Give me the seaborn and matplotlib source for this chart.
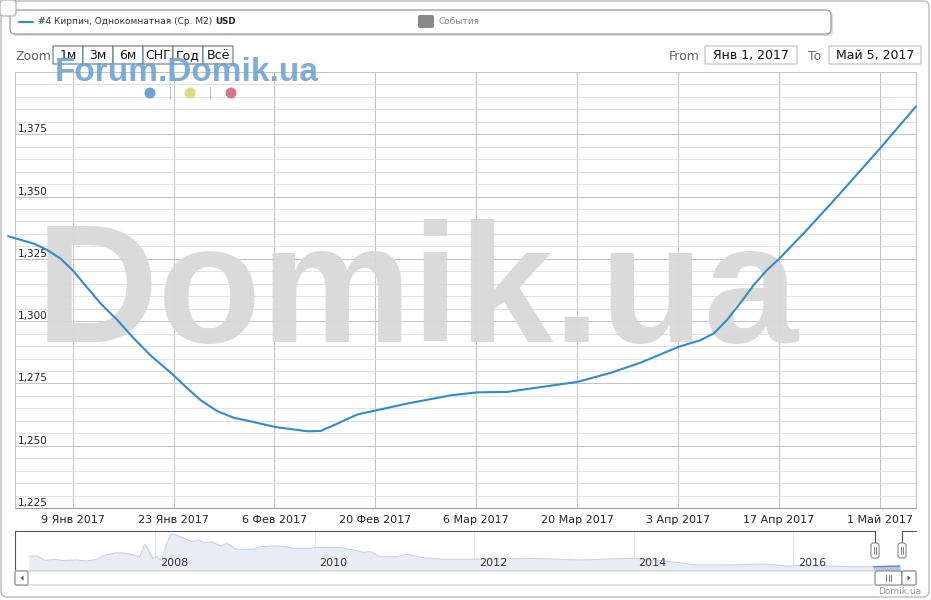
import numpy as np
import pandas as pd
import matplotlib
matplotlib.use("Agg")
import matplotlib.pyplot as plt
from matplotlib.patches import FancyBboxPatch, Circle, Polygon
from matplotlib.lines import Line2D
import seaborn as sns

# main series: #4 brick, one-room flat, avg USD per m2
dates = ["2016-12-31 01:00", "2017-01-03 15:00", "2017-01-05 12:00", "2017-01-07 08:00",
         "2017-01-09 00:00", "2017-01-10 13:00", "2017-01-12 21:00", "2017-01-15 05:00",
         "2017-01-17 12:00", "2017-01-19 19:00", "2017-01-23 00:00", "2017-01-24 22:00",
         "2017-01-26 18:00", "2017-01-29 01:00", "2017-01-31 09:00", "2017-02-02 16:00",
         "2017-02-06 03:00", "2017-02-10 13:00", "2017-02-12 09:00", "2017-02-14 05:00",
         "2017-02-17 11:00", "2017-02-20 03:00", "2017-02-24 09:00", "2017-03-02 10:00",
         "2017-03-06 00:00", "2017-03-10 07:00", "2017-03-15 20:00", "2017-03-20 00:00",
         "2017-03-24 14:00", "2017-03-28 18:00", "2017-03-31 12:00", "2017-04-03 02:00",
         "2017-04-06 01:00", "2017-04-07 22:00", "2017-04-09 18:00", "2017-04-11 14:00",
         "2017-04-13 11:00", "2017-04-15 07:00", "2017-04-17 01:00", "2017-04-20 20:00",
         "2017-04-25 11:00", "2017-05-01 00:00", "2017-05-06 00:00"]
prices = [1334.1, 1331.1, 1328.5, 1325.1,
          1320.4, 1315.1, 1307.1, 1300.4,
          1293.0, 1286.3, 1278.3, 1273.0,
          1268.3, 1263.9, 1261.2, 1259.8,
          1257.5, 1255.8, 1255.9, 1258.2,
          1262.5, 1264.2, 1266.9, 1270.2,
          1271.4, 1271.6, 1273.9, 1275.6,
          1279.2, 1283.3, 1286.6, 1289.7,
          1292.3, 1295.0, 1300.4, 1307.1,
          1314.4, 1320.4, 1325.1, 1336.5,
          1351.2, 1369.3, 1386.2]

tick_dates = ["2017-01-09", "2017-01-23", "2017-02-06", "2017-02-20", "2017-03-06",
              "2017-03-20", "2017-04-03", "2017-04-17", "2017-05-01"]
tick_labels = ["9 Янв 2017", "23 Янв 2017", "6 Фев 2017", "20 Фев 2017", "6 Мар 2017",
               "20 Мар 2017", "3 Апр 2017", "17 Апр 2017", "1 Май 2017"]
y_ticks = [1225, 1250, 1275, 1300, 1325, 1350, 1375]
y_labels = ["1,225", "1,250", "1,275", "1,300", "1,325", "1,350", "1,375"]

# navigator (whole history), years as decimals
nav_years = [2006.42, 2006.52, 2006.62, 2006.75, 2006.85, 2007.02, 2007.14, 2007.27,
             2007.35, 2007.52, 2007.65, 2007.77, 2007.81, 2007.87, 2007.92, 2007.97,
             2008.02, 2008.08, 2008.14, 2008.20, 2008.27, 2008.35, 2008.46, 2008.54,
             2008.63, 2008.71, 2008.82, 2008.90, 2009.02, 2009.23, 2009.32, 2009.48,
             2009.65, 2009.73, 2009.94, 2010.07, 2010.32, 2010.49, 2010.61, 2010.70,
             2010.82, 2011.03, 2011.16, 2011.36, 2011.61, 2011.91, 2012.33, 2012.70,
             2013.33, 2013.96, 2014.37, 2014.79, 2015.21, 2015.63, 2015.92, 2016.25,
             2016.67, 2017.01, 2017.34]
nav_values = [1549, 1549, 1449, 1473, 1440, 1456, 1433, 1473,
              1556, 1626, 1612, 1556, 1533, 1829, 1689, 1496,
              1533, 1449, 1806, 2062, 2039, 1976, 1883, 1922,
              1859, 1883, 1783, 1845, 1706, 1706, 1766, 1783,
              1766, 1729, 1729, 1752, 1743, 1689, 1636, 1650,
              1533, 1533, 1589, 1510, 1473, 1473, 1480, 1496,
              1456, 1496, 1440, 1340, 1340, 1363, 1316, 1340,
              1300, 1300, 1316]
nav_year_ticks = [2008, 2010, 2012, 2014, 2016]

zoom_buttons = ["1м", "3м", "6м", "СНГ", "Год", "Всё"]
series_name = "#4 Кирпич, Однокомнатная (Ср. М2)"
from_date = "Янв 1, 2017"
to_date = "Май 5, 2017"

sns.set_style("white")
plt.rcParams["font.family"] = ["DejaVu Sans"]

W, H = 931, 600
fig = plt.figure(figsize=(W / 100, H / 100), dpi=100)
T = fig.dpi_scale_trans


def box(x, y, w, h, r=0.0, fc="white", ec="#999999", lw=0.8, z=10):
    # pixel box, y from top
    p = FancyBboxPatch((x / 100, (H - y - h) / 100), w / 100, h / 100,
                       boxstyle="round,pad=0,rounding_size=%f" % (r / 100),
                       transform=T, fc=fc, ec=ec, lw=lw, zorder=z)
    fig.add_artist(p)
    return p


def txt(x, y, s, **kw):
    return fig.text(x / 100, (H - y) / 100, s, transform=T, **kw)


# page frame
box(1, 1, 928, 596, r=6, fc="none", ec="#bbbbbb", lw=1, z=1)

# legend bar
box(12, 12, 821, 24, r=5, fc="#dddddd", ec="none", z=2)
box(10, 10, 821, 24, r=5, fc="white", ec="#9a9a9a", lw=0.9, z=3)
fig.add_artist(Line2D([19 / 100, 33 / 100], [(H - 22) / 100] * 2, transform=T,
                      color="#2f8dcd", lw=1.6, zorder=4))
txt(38, 22, series_name, fontsize=6.5, color="#333333", va="center", zorder=4)
txt(215, 22, "USD", fontsize=6.3, color="#222222", fontweight="bold", va="center", zorder=4)
box(418, 15, 16, 13, r=2, fc="#888888", ec="none", z=4)
txt(439, 22, "События", fontsize=6.5, color="#888888", va="center", zorder=4)
box(0, 0, 16, 16, r=3, fc="white", ec="#aaaaaa", lw=0.8, z=5)

# range selector
txt(16, 56, "Zoom", fontsize=9, color="#666666", va="center", zorder=4)
for i, lab in enumerate(zoom_buttons):
    bx = 53 + i * 30
    box(bx, 46, 30, 18, fc="white", ec="#5b7496", lw=0.8, z=4)
    txt(bx + 15, 55.5, lab, fontsize=9, color="#111111", ha="center", va="center", zorder=5)
txt(669, 56, "From", fontsize=9, color="#666666", va="center", zorder=4)
box(705, 46, 92, 18, fc="white", ec="#bbbbbb", lw=0.8, z=4)
txt(751, 55.5, from_date, fontsize=9, color="#111111", ha="center", va="center", zorder=5)
txt(808, 56, "To", fontsize=9, color="#666666", va="center", zorder=4)
box(829, 46, 92, 18, fc="white", ec="#bbbbbb", lw=0.8, z=4)
txt(875, 55.5, to_date, fontsize=9, color="#111111", ha="center", va="center", zorder=5)

# small watermark + dots
txt(55, 81, "Forum.Domik.ua", fontsize=24, fontweight="bold", color="#6ea3d6",
    alpha=0.9, family="Liberation Sans", va="baseline", zorder=6)
for cx, col in [(150, "#6fa0d8"), (190, "#d6de84"), (231, "#d9758f")]:
    fig.add_artist(Circle((cx / 100, (H - 93) / 100), 5.5 / 100, transform=T,
                          fc=col, ec="none", zorder=6))
for sx in [170, 210]:
    fig.add_artist(Line2D([sx / 100] * 2, [(H - 99) / 100, (H - 87) / 100], transform=T,
                          color="#bbbbbb", lw=0.7, zorder=6))

# main chart
ax = fig.add_axes([15 / W, 1 - 508 / H, 901 / W, 436 / H])
ax.patch.set_alpha(0)
# big watermark sits over the grid but under the line
ax.text(36 / 100, (H - 342) / 100, "Domik.ua", transform=T, fontsize=122,
        fontweight="bold", color="#d8d8d8", alpha=0.95, family="Liberation Sans",
        va="baseline", zorder=1.5, clip_on=False)
df = pd.DataFrame({"date": pd.to_datetime(dates), "price": prices})
sns.lineplot(data=df, x="date", y="price", ax=ax, color="#2f8dcd", linewidth=1.5,
             zorder=5, clip_on=False)
ax.set_xlim(pd.Timestamp("2017-01-01"), pd.Timestamp("2017-05-06"))
ax.set_ylim(1225, 1400)
ax.set_xticks(pd.to_datetime(tick_dates))
ax.set_xticklabels(tick_labels)
ax.set_yticks(y_ticks)
ax.set_yticklabels(y_labels)
ax.set_yticks(np.arange(1225, 1401, 5), minor=True)
ax.set_xlabel("")
ax.set_ylabel("")
ax.grid(True, which="major", color="#c4c4c4", lw=0.75)
ax.grid(True, which="minor", axis="y", color="#e2e2e2", lw=0.75)
ax.tick_params(axis="x", which="major", length=4, color="#c4c4c4", labelsize=8,
               labelcolor="#222222", pad=1)
ax.tick_params(axis="y", which="major", length=4, color="#c4c4c4", labelsize=7.5,
               labelcolor="#222222", pad=-6.1)
ax.tick_params(axis="y", which="minor", length=0)
for lbl in ax.get_yticklabels():
    lbl.set_horizontalalignment("left")
    lbl.set_verticalalignment("bottom")
for sp in ax.spines.values():
    sp.set_color("#c4c4c4")
    sp.set_linewidth(0.75)
ax.spines["bottom"].set_color("#a0a0a0")
ax.set_axisbelow(True)

# navigator
nav = fig.add_axes([15 / W, 1 - 571 / H, 901 / W, 40 / H])
nav.patch.set_alpha(0)
x0 = 2008 + (15 - 155) / 79.75
x1 = 2008 + (916 - 155) / 79.75
nav.set_xlim(x0, x1)
nav.set_ylim(1200, 2132)
for yr in nav_year_ticks:
    nav.axvline(yr, color="#e6e6e6", lw=0.75, zorder=0)
    nav.text(yr + 0.06, 1390, str(yr), fontsize=8, color="#333333", va="center", zorder=3)
nav.fill_between(nav_years, nav_values, 1200, color="#e8ecf5", lw=0, zorder=1)
sns.lineplot(x=nav_years, y=nav_values, ax=nav, color="#c8d2e6", linewidth=0.8, zorder=2)
sel_x = [2017.01, 2017.34]
sel_y = [1300, 1316]
nav.fill_between(sel_x, sel_y, 1200, color="#b7c4df", lw=0, zorder=2)
nav.plot(sel_x, sel_y, color="#6a85b8", lw=1.0, zorder=3)
nav.set_xticks([])
nav.set_yticks([])
for sp in nav.spines.values():
    sp.set_visible(False)

# navigator outline and handles
dark = "#555555"
fig.add_artist(Line2D([15 / 100, 875 / 100], [(H - 531) / 100] * 2, transform=T, color=dark, lw=0.8))
fig.add_artist(Line2D([902 / 100, 916 / 100], [(H - 531) / 100] * 2, transform=T, color=dark, lw=0.8))
fig.add_artist(Line2D([15 / 100] * 2, [(H - 571) / 100, (H - 531) / 100], transform=T, color=dark, lw=0.8))
for hx in [875, 902]:
    fig.add_artist(Line2D([hx / 100] * 2, [(H - 543) / 100, (H - 531) / 100], transform=T, color=dark, lw=0.8))
    box(hx - 4, 543, 8, 15, r=2.5, fc="white", ec="#888888", lw=0.8, z=12)
    for dx in [-1.2, 1.2]:
        fig.add_artist(Line2D([(hx + dx) / 100] * 2, [(H - 554) / 100, (H - 547) / 100],
                              transform=T, color="#666666", lw=0.6, zorder=13))

# scrollbar
box(15, 571, 901, 14, fc="white", ec="#cccccc", lw=0.8, z=4)
box(15, 571, 13, 14, r=2, fc="white", ec="#888888", lw=0.8, z=5)
box(875, 571, 27, 14, r=2, fc="white", ec="#888888", lw=0.8, z=5)
box(902, 571, 14, 14, r=2, fc="white", ec="#888888", lw=0.8, z=5)
fig.add_artist(Polygon([[23.5 / 100, (H - 575.5) / 100], [23.5 / 100, (H - 580.5) / 100],
                        [20.5 / 100, (H - 578) / 100]], closed=True, transform=T,
                       fc="#555555", ec="none", zorder=6))
fig.add_artist(Polygon([[907.5 / 100, (H - 575.5) / 100], [907.5 / 100, (H - 580.5) / 100],
                        [910.5 / 100, (H - 578) / 100]], closed=True, transform=T,
                       fc="#555555", ec="none", zorder=6))
for dx in [-2.5, 0, 2.5]:
    fig.add_artist(Line2D([(888.5 + dx) / 100] * 2, [(H - 581) / 100, (H - 575) / 100],
                          transform=T, color="#555555", lw=0.6, zorder=6))

txt(921, 591, "Domik.ua", fontsize=6.5, color="#999999", ha="right", va="center")

fig.savefig("out.png", dpi=100)
